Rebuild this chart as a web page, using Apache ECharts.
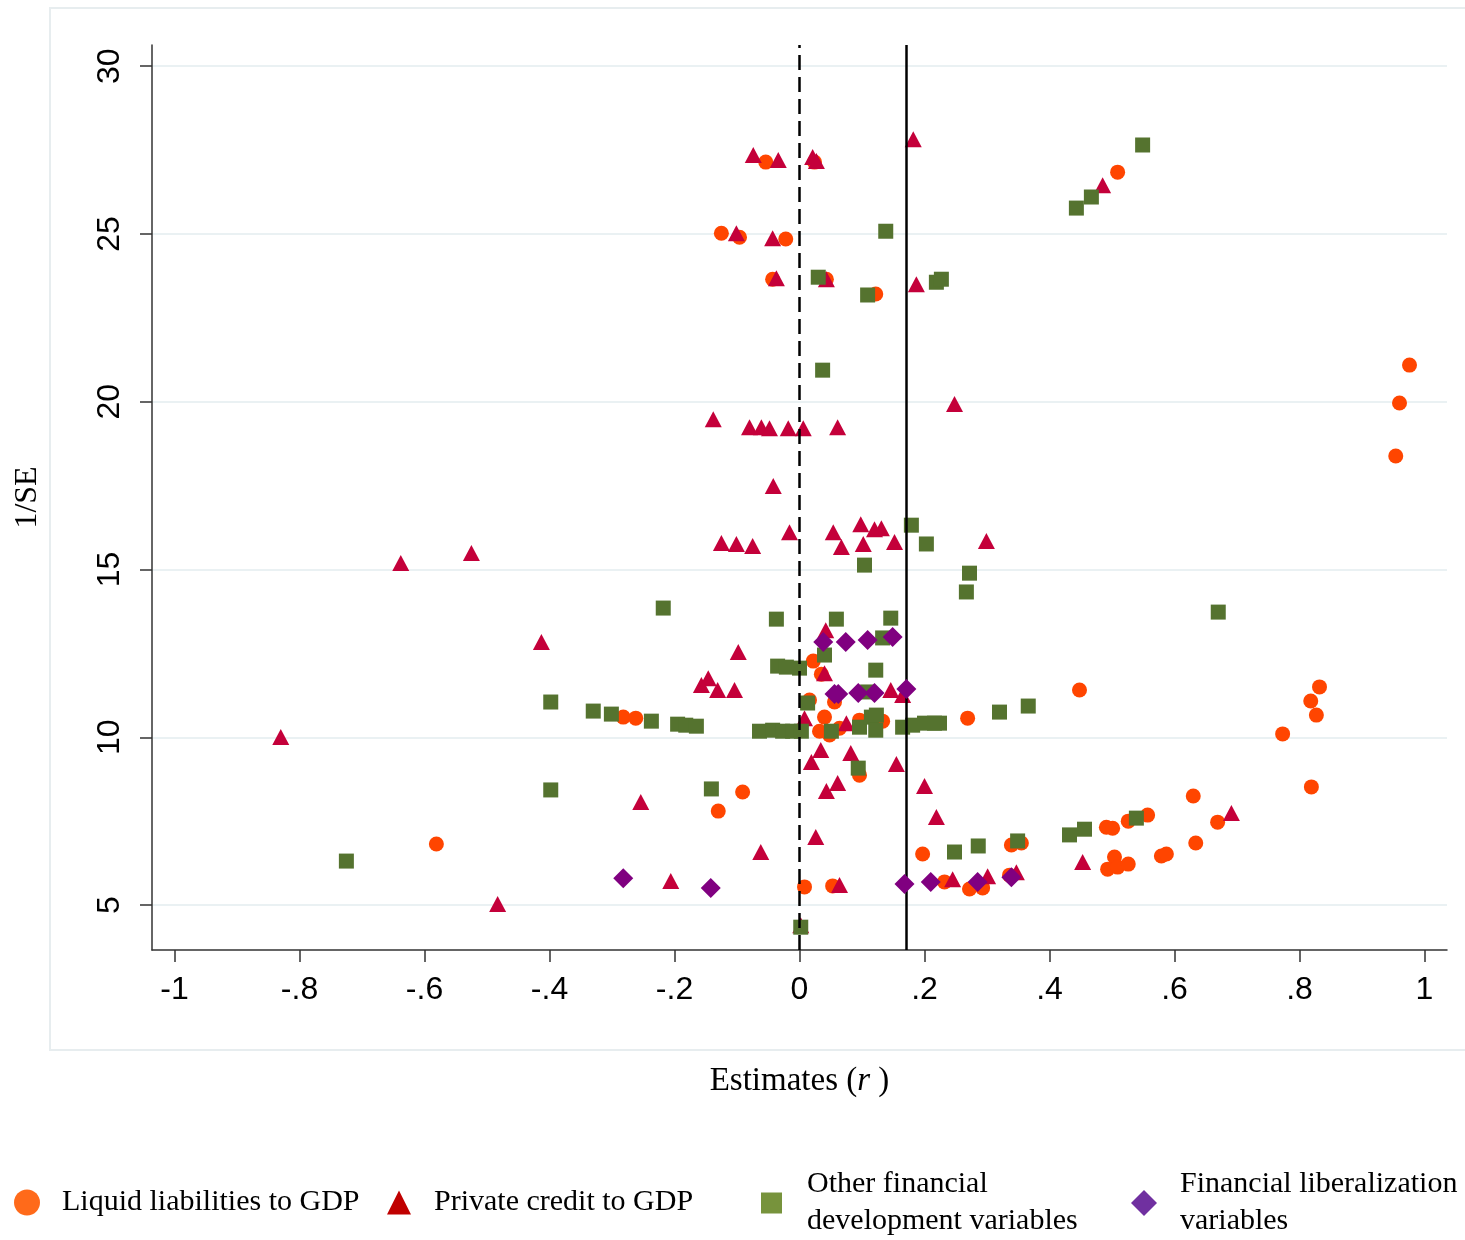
<!DOCTYPE html>
<html>
<head>
<meta charset="utf-8">
<script src="https://cdn.jsdelivr.net/npm/echarts@6/dist/echarts.min.js"></script>
<style>
  html, body { margin: 0; padding: 0; background: #ffffff; }
  #chart { width: 1465px; height: 1240px; }
</style>
</head>
<body>
<div id="chart"></div>
<script>
// Tick positions
const xTicks = [-1, -0.8, -0.6, -0.4, -0.2, 0, 0.2, 0.4, 0.6, 0.8, 1];
const yTicks = [5, 10, 15, 20, 25, 30];

// Reference lines: zero effect and the overall estimate
const zeroLine = 0;
const meanEstimate = 0.168;

// [estimate r, 1/SE]
const liquidLiabilities = [
  [-0.054, 27.14], [0.024, 27.14], [-0.125, 25.02], [-0.096, 24.90], [-0.022, 24.85],
  [-0.043, 23.65], [0.043, 23.65], [0.122, 23.21], [0.509, 26.84], [0.976, 21.09],
  [0.960, 19.96], [0.954, 18.38], [-0.282, 10.60], [-0.262, 10.57], [-0.581, 6.82],
  [0.022, 12.27], [0.035, 11.88], [0.016, 11.11], [0.056, 11.05], [0.040, 10.60],
  [0.096, 10.51], [0.133, 10.48], [0.032, 10.18], [0.048, 10.07], [0.064, 10.27],
  [0.096, 8.87], [0.269, 10.57], [0.448, 11.41], [-0.091, 8.37], [-0.130, 7.80],
  [0.008, 5.54], [0.053, 5.57], [0.197, 6.52], [0.232, 5.69], [0.272, 5.48],
  [0.293, 5.51], [0.336, 5.89], [0.339, 6.79], [0.355, 6.85], [0.491, 7.32],
  [0.501, 7.29], [0.526, 7.50], [0.557, 7.68], [0.504, 6.43], [0.493, 6.07],
  [0.509, 6.13], [0.526, 6.22], [0.579, 6.46], [0.587, 6.52], [0.634, 6.85],
  [0.630, 8.25], [0.669, 7.47], [0.832, 11.50], [0.818, 11.08], [0.827, 10.66],
  [0.773, 10.10], [0.819, 8.52]
];

const privateCredit = [
  [0.182, 27.82], [-0.074, 27.35], [-0.034, 27.20], [0.021, 27.29], [0.027, 27.17],
  [-0.101, 25.02], [-0.043, 24.87], [-0.037, 23.68], [0.043, 23.65], [0.187, 23.50],
  [0.485, 26.45], [0.248, 19.93], [-0.138, 19.48], [-0.080, 19.24], [-0.061, 19.24],
  [-0.048, 19.21], [-0.018, 19.21], [0.006, 19.21], [0.061, 19.24], [-0.042, 17.49],
  [-0.125, 15.79], [-0.101, 15.76], [-0.075, 15.70], [-0.016, 16.11], [0.054, 16.11],
  [0.067, 15.67], [0.098, 16.35], [0.120, 16.20], [0.131, 16.23], [0.102, 15.76],
  [0.152, 15.82], [0.299, 15.85], [-0.638, 15.19], [-0.525, 15.49], [-0.413, 12.84],
  [-0.830, 10.01], [-0.254, 8.07], [-0.483, 5.03], [-0.098, 12.54], [-0.157, 11.56],
  [-0.146, 11.76], [-0.131, 11.41], [-0.104, 11.41], [0.042, 13.19], [0.040, 11.91],
  [0.146, 11.41], [0.165, 11.26], [0.008, 10.57], [0.075, 10.42], [0.034, 9.62],
  [0.019, 9.26], [0.082, 9.53], [0.155, 9.20], [0.061, 8.64], [0.043, 8.40],
  [0.200, 8.55], [0.219, 7.62], [0.026, 7.03], [-0.062, 6.58], [-0.206, 5.72],
  [0.064, 5.60], [0.245, 5.77], [0.301, 5.86], [0.347, 5.98], [0.453, 6.28],
  [0.691, 7.74], [0.002, 4.40]
];

const otherFinancial = [
  [0.549, 27.65], [0.467, 26.10], [0.443, 25.77], [0.138, 25.08], [0.030, 23.71],
  [0.109, 23.18], [0.219, 23.56], [0.227, 23.65], [0.037, 20.94], [0.179, 16.32],
  [0.203, 15.76], [0.104, 15.13], [0.272, 14.89], [0.267, 14.33], [-0.218, 13.85],
  [0.670, 13.73], [-0.037, 13.52], [0.059, 13.52], [0.146, 13.55], [0.133, 12.96],
  [0.040, 12.45], [-0.035, 12.12], [-0.021, 12.09], [0.000, 12.06], [0.122, 12.00],
  [0.109, 11.35], [0.013, 11.02], [-0.398, 11.05], [-0.330, 10.78], [-0.301, 10.69],
  [-0.237, 10.48], [-0.195, 10.39], [-0.182, 10.36], [-0.165, 10.33], [-0.064, 10.18],
  [-0.043, 10.21], [-0.027, 10.18], [-0.011, 10.18], [0.003, 10.18], [0.051, 10.18],
  [0.096, 10.30], [0.115, 10.60], [0.123, 10.66], [0.122, 10.21], [0.165, 10.30],
  [0.181, 10.36], [0.200, 10.42], [0.216, 10.42], [0.224, 10.42], [0.320, 10.75],
  [0.366, 10.93], [-0.398, 8.43], [-0.141, 8.46], [0.094, 9.08], [-0.725, 6.31],
  [0.002, 4.34], [0.248, 6.58], [0.286, 6.76], [0.349, 6.91], [0.432, 7.09],
  [0.456, 7.26], [0.539, 7.59]
];

const finLiberalization = [
  [0.038, 12.84], [0.074, 12.84], [0.109, 12.90], [0.149, 12.99], [0.056, 11.29],
  [0.062, 11.29], [0.094, 11.32], [0.120, 11.32], [0.171, 11.44], [-0.282, 5.80],
  [-0.142, 5.51], [0.168, 5.63], [0.210, 5.69], [0.285, 5.69], [0.339, 5.83]
];

const seriesNames = [
  'Liquid liabilities to GDP',
  'Private credit to GDP',
  'Other financial\ndevelopment variables',
  'Financial liberalization\nvariables'
];

const serif = 'Liberation Serif';
const sans = 'Liberation Sans';

function tickText(v) {
  const r = Math.round(v * 10) / 10;
  if (r === 0) return '0';
  const s = String(Math.abs(r)).replace(/^0/, '');
  return (r < 0 ? '-' : '') + s;
}

function legendBlock(name, icon, color, size, left, top, gap) {
  return {
    show: true,
    orient: 'horizontal',
    left: left,
    top: top,
    padding: 0,
    itemWidth: size,
    itemHeight: size,
    selectedMode: false,
    data: [{ name: name, icon: icon, itemStyle: { color: color, borderWidth: 0 } }],
    textStyle: {
      fontFamily: serif,
      fontSize: 30,
      color: '#000',
      lineHeight: 37,
      padding: [0, 0, 0, gap]
    }
  };
}

const chart = echarts.init(document.getElementById('chart'), null, { renderer: 'canvas' });

chart.setOption({
  backgroundColor: '#ffffff',
  animation: false,
  grid: { left: 152, top: 45, right: 18, bottom: 290, containLabel: false, outerBoundsMode: 'none' },
  graphic: [{
    type: 'rect',
    silent: true,
    z: -10,
    shape: { x: 50, y: 8, width: 1440, height: 1042 },
    style: { fill: 'none', stroke: '#E7EDEF', lineWidth: 2 }
  }],
  legend: [
    legendBlock(seriesNames[0], 'circle', '#FF6A1A', 26, 14, 1184, 17),
    legendBlock(seriesNames[1], 'triangle', '#C00000', 24, 387, 1184, 18),
    legendBlock(seriesNames[2], 'rect', '#77933C', 21, 761, 1166, 20),
    legendBlock(seriesNames[3], 'diamond', '#7030A0', 26, 1131, 1166, 18)
  ],
  xAxis: {
    type: 'value',
    min: -1.036,
    max: 1.036,
    axisLine: { show: true, onZero: false, lineStyle: { color: '#333', width: 1.5 } },
    axisTick: { show: true, customValues: xTicks, length: 12, lineStyle: { color: '#333', width: 1.5 } },
    axisLabel: {
      customValues: xTicks,
      formatter: tickText,
      fontFamily: sans,
      fontSize: 32,
      color: '#000',
      margin: 24
    },
    splitLine: { show: false },
    name: '{a|Estimates (}{b|r}{a| )}',
    nameLocation: 'middle',
    nameGap: 115,
    nameTextStyle: {
      rich: {
        a: { fontFamily: serif, fontSize: 33, color: '#000' },
        b: { fontFamily: serif, fontSize: 33, color: '#000', fontStyle: 'italic' }
      }
    }
  },
  yAxis: {
    type: 'value',
    min: 3.66,
    max: 30.63,
    axisLine: { show: true, onZero: false, lineStyle: { color: '#333', width: 1.5 } },
    axisTick: { show: true, customValues: yTicks, length: 12, lineStyle: { color: '#333', width: 1.5 } },
    axisLabel: {
      customValues: yTicks,
      rotate: 90,
      fontFamily: sans,
      fontSize: 32,
      color: '#000',
      margin: 26
    },
    splitLine: { show: true, lineStyle: { color: '#EAF1F3', width: 2 } },
    name: '1/SE',
    nameLocation: 'middle',
    nameGap: 108,
    nameTextStyle: { fontFamily: serif, fontSize: 32, color: '#000' }
  },
  series: [
    {
      type: 'scatter',
      name: 'reference lines',
      data: [],
      silent: true,
      z: 1,
      markLine: {
        silent: true,
        symbol: ['none', 'none'],
        label: { show: false },
        animation: false,
        data: [
          { xAxis: zeroLine, lineStyle: { type: [15, 7], width: 2.5, color: '#000' } },
          { xAxis: meanEstimate, lineStyle: { type: 'solid', width: 2.5, color: '#000' } }
        ]
      }
    },
    {
      type: 'scatter', name: seriesNames[0], data: liquidLiabilities, z: 2,
      symbol: 'circle', symbolSize: 15,
      itemStyle: { color: '#FF4500', opacity: 1 }
    },
    {
      type: 'scatter', name: seriesNames[1], data: privateCredit, z: 3,
      symbol: 'triangle', symbolSize: [17, 16],
      itemStyle: { color: '#C4003A', opacity: 1 }
    },
    {
      type: 'scatter', name: seriesNames[2], data: otherFinancial, z: 4,
      symbol: 'rect', symbolSize: 15,
      itemStyle: { color: '#55732F', opacity: 1 }
    },
    {
      type: 'scatter', name: seriesNames[3], data: finLiberalization, z: 5,
      symbol: 'diamond', symbolSize: [20, 20],
      itemStyle: { color: '#800080', opacity: 1 }
    }
  ]
});
</script>
</body>
</html>
